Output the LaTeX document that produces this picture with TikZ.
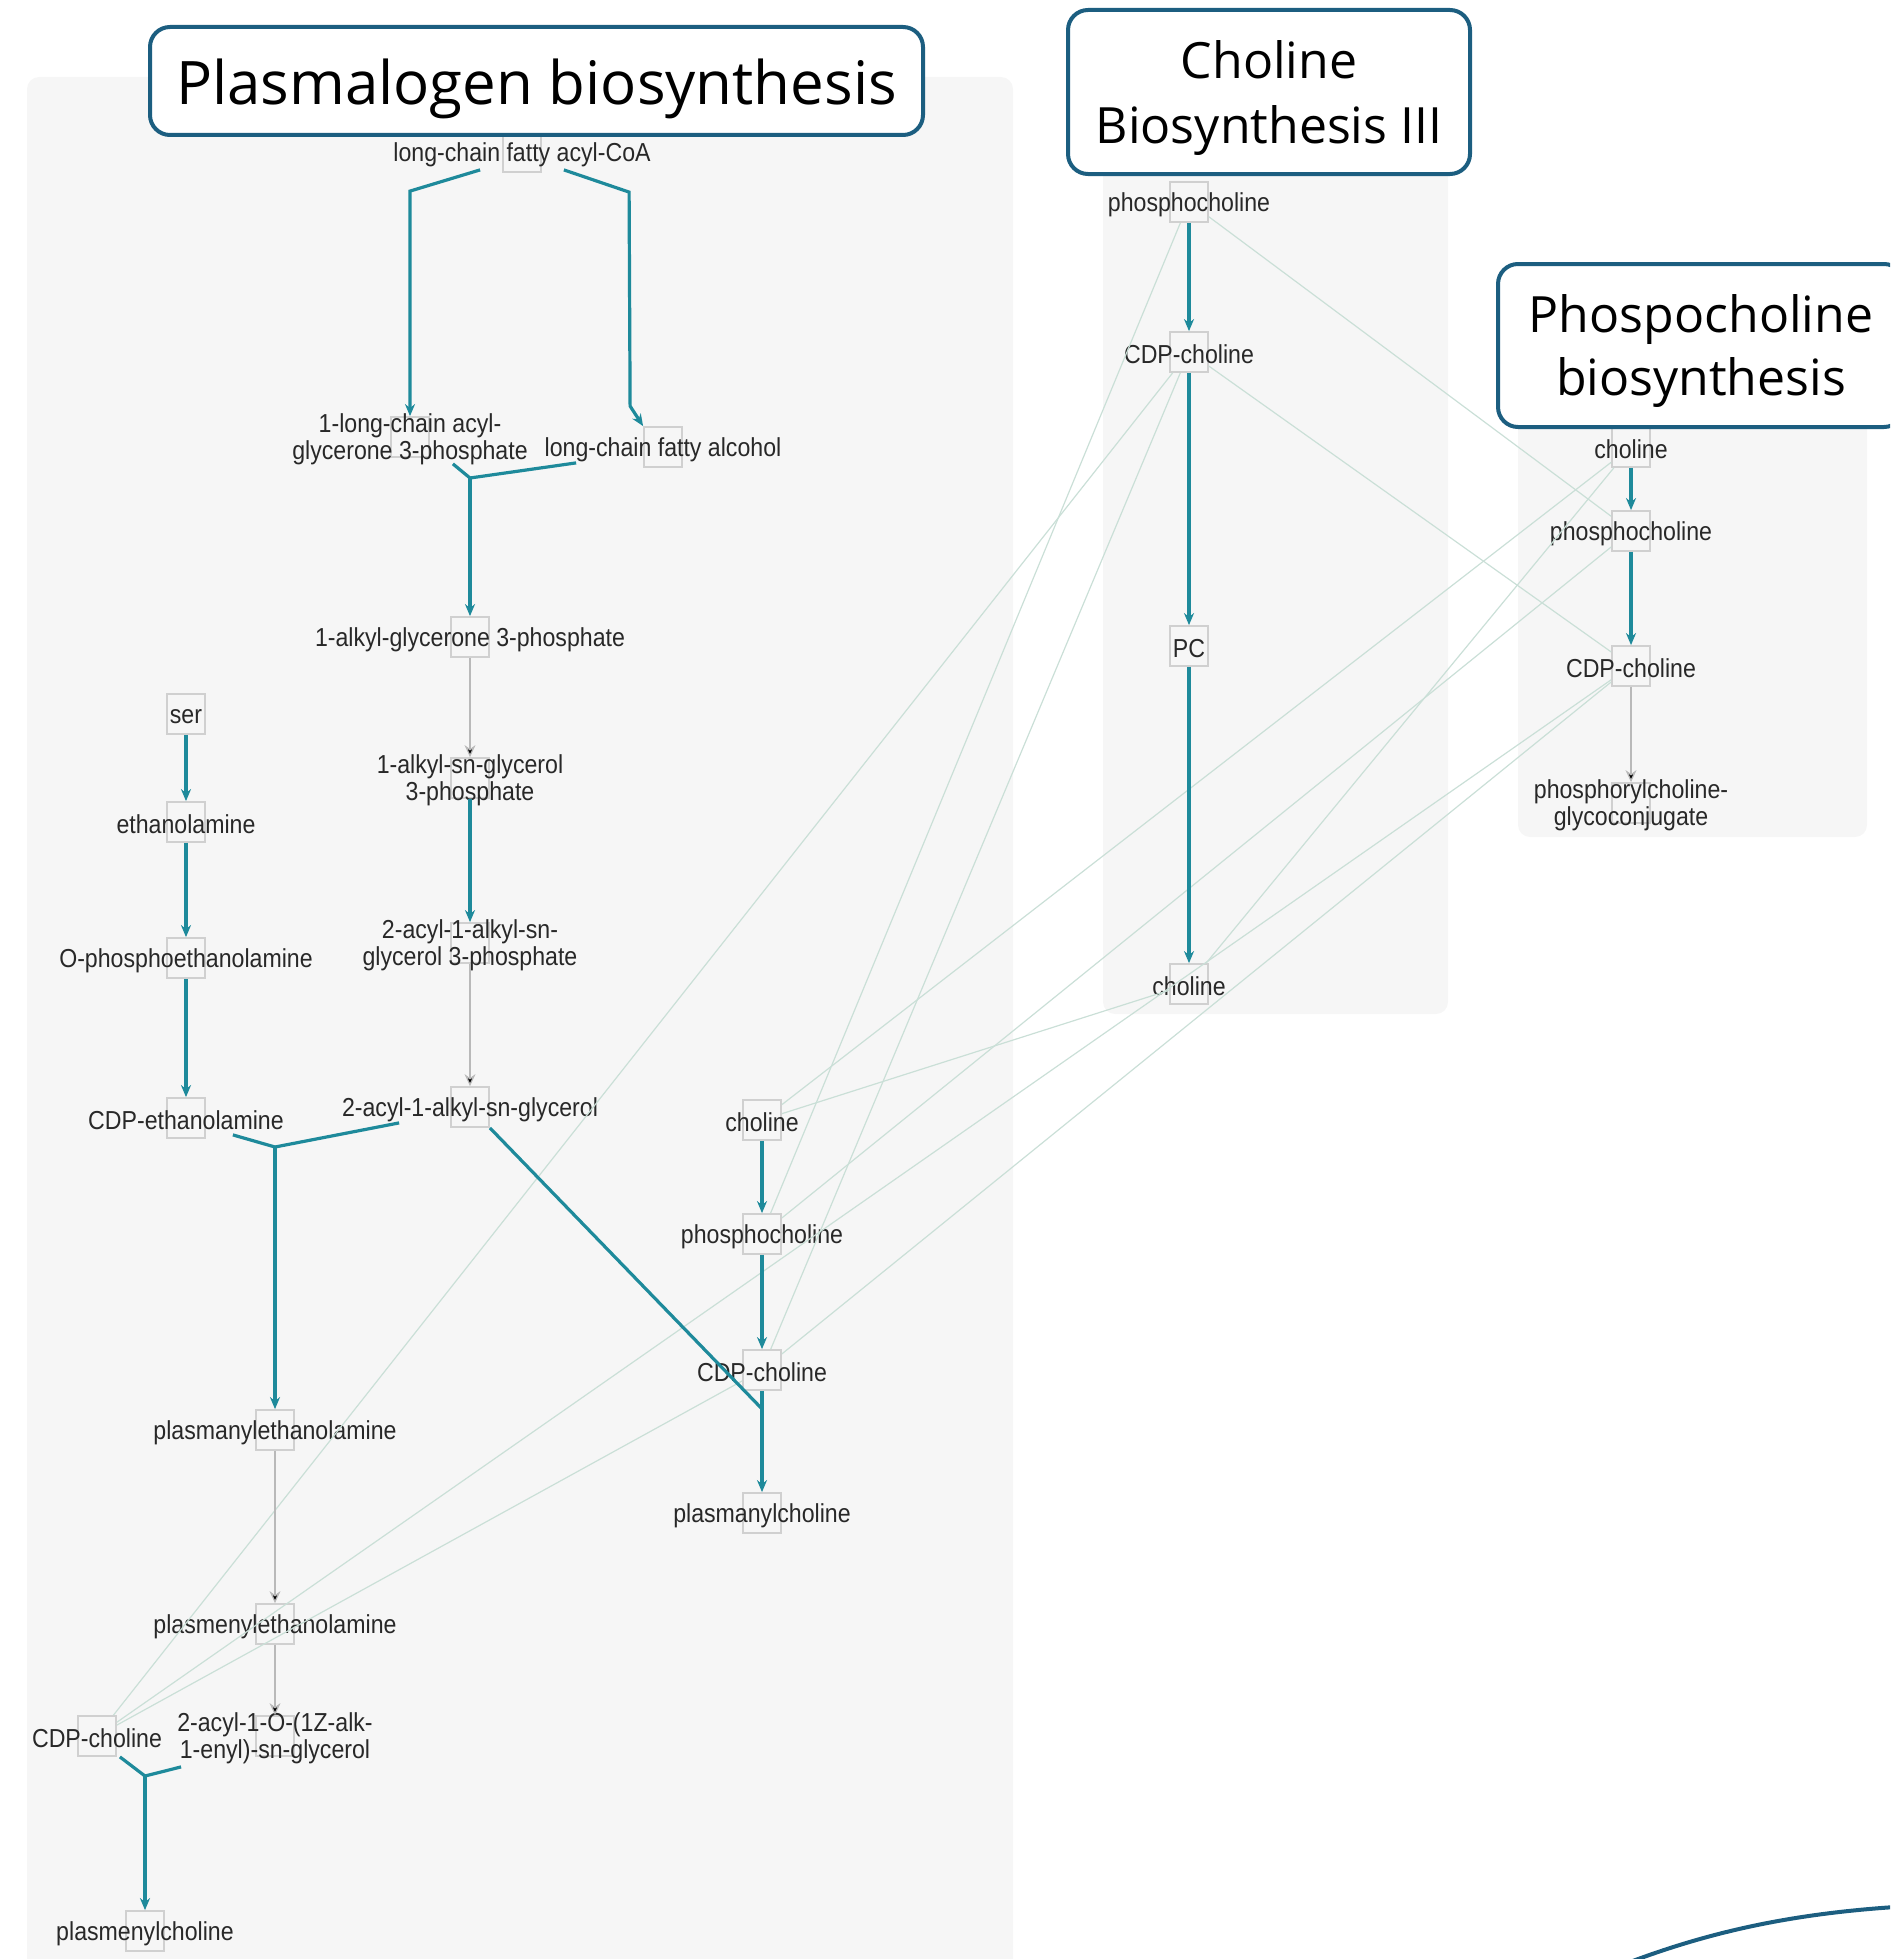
\documentclass[tikz,border=0pt]{standalone}
\usepackage{fontspec}
\setmainfont{Liberation Sans}
\newfontfamily\titlefont{Open Sans}
\newfontfamily\metfont[FakeStretch=0.89]{Liberation Sans}
\usetikzlibrary{arrows.meta,calc}

\definecolor{rxnteal}{RGB}{30,138,155}
\definecolor{linkgreen}{RGB}{202,223,215}
\definecolor{boxgray}{RGB}{208,208,208}
\definecolor{sidegray}{RGB}{185,185,185}
\definecolor{panelgray}{RGB}{246,246,246}
\definecolor{titleblue}{RGB}{28,94,128}
\definecolor{labelgray}{RGB}{40,40,40}

\begin{document}
\begin{tikzpicture}[x=0.5pt,y=-0.5pt,
  met/.style={draw=boxgray,line width=0.9pt,minimum width=19pt,minimum height=20pt,inner sep=0pt},
  lbl/.style={font=\metfont\fontsize{13}{13.5}\selectfont,text=labelgray,align=center,inner sep=0pt,yshift=-1.2pt},
  rxn/.style={draw=rxnteal,line width=1.6pt},
  main/.style={rxn,-{Stealth[length=6pt,width=5pt]}},
  side/.style={draw=sidegray,line width=0.6pt,-{Stealth[length=6pt,width=5.5pt]}},
  link/.style={draw=linkgreen,line width=0.6pt},
  panel/.style={fill=panelgray,rounded corners=6pt},
  title/.style={draw=titleblue,line width=2pt,rounded corners=10pt,fill=white,inner sep=0pt},
  ttl/.style={align=center,text=black,inner sep=0pt,yshift=-3pt}]

  \useasboundingbox (0,0) rectangle (1890,1959);
  \clip (0,0) rectangle (1890,1959);

  % pathway panels
  \fill[panel] (27,77) rectangle (1013,2000);
  \fill[panel] (1103,150) rectangle (1448,1014);
  \fill[panel] (1518,400) rectangle (1867,837);

  % plasmalogen pathway
  \node[met,label={[lbl]center:long-chain fatty acyl-CoA}] (lcfa) at (522,152) {};
  \node[met,label={[lbl]center:1-long-chain acyl-\\glycerone 3-phosphate}] (acylG3P) at (410,437) {};
  \node[met,label={[lbl]center:long-chain fatty alcohol}] (fattyalc) at (663,447) {};
  \node[met,label={[lbl]center:1-alkyl-glycerone 3-phosphate}] (alkylG3P) at (470,637) {};
  \node[met,label={[lbl]center:1-alkyl-sn-glycerol\\3-phosphate}] (alkylGro3P) at (470,778) {};
  \node[met,label={[lbl]center:2-acyl-1-alkyl-sn-\\glycerol 3-phosphate}] (acylalkylGro3P) at (470,943) {};
  \node[met,label={[lbl]center:2-acyl-1-alkyl-sn-glycerol}] (acylalkylGro) at (470,1107) {};
  \node[met,label={[lbl]center:ser}] (ser) at (186,714) {};
  \node[met,label={[lbl]center:ethanolamine}] (etn) at (186,822) {};
  \node[met,label={[lbl]center:O-phosphoethanolamine}] (petn) at (186,958) {};
  \node[met,label={[lbl]center:CDP-ethanolamine}] (cdpetn) at (186,1118) {};
  \node[met,label={[lbl]center:plasmanylethanolamine}] (plsmanE) at (275,1430) {};
  \node[met,label={[lbl]center:plasmenylethanolamine}] (plsmenE) at (275,1624) {};
  \node[met,label={[lbl]center:2-acyl-1-O-(1Z-alk-\\1-enyl)-sn-glycerol}] (alkenylGro) at (275,1736) {};
  \node[met,label={[lbl]center:CDP-choline}] (cdpL) at (97,1736) {};
  \node[met,label={[lbl]center:plasmenylcholine}] (plsmenC) at (145,1931) {};
  \node[met,label={[lbl]center:choline}] (cM) at (762,1120) {};
  \node[met,label={[lbl]center:phosphocholine}] (pM) at (762,1234) {};
  \node[met,label={[lbl]center:CDP-choline}] (cdpM) at (762,1370) {};
  \node[met,label={[lbl]center:plasmanylcholine}] (plsmanC) at (762,1513) {};

  % choline biosynthesis III
  \node[met,label={[lbl]center:phosphocholine}] (p3) at (1189,202) {};
  \node[met,label={[lbl]center:CDP-choline}] (cdp3) at (1189,352) {};
  \node[met,label={[lbl]center:PC}] (pc) at (1189,646) {};
  \node[met,label={[lbl]center:choline}] (c3) at (1189,984) {};

  % phosphocholine biosynthesis
  \node[met,label={[lbl]center:choline}] (cR) at (1631,447) {};
  \node[met,label={[lbl]center:phosphocholine}] (pR) at (1631,531) {};
  \node[met,label={[lbl]center:CDP-choline}] (cdpR) at (1631,666) {};
  \node[met,label={[lbl]center:phosphorylcholine-\\glycoconjugate}] (pcgly) at (1631,803) {};

  % shared metabolites
  \path[link] (cM) edge (c3)  (cM) edge (cR)  (c3) edge (cR)
              (pM) edge (p3)  (pM) edge (pR)  (p3) edge (pR)
              (cdpL) edge (cdpM)  (cdpL) edge (cdp3)  (cdpL) edge (cdpR)
              (cdpM) edge (cdp3)  (cdpM) edge (cdpR)  (cdp3) edge (cdpR);

  % reactions
  \draw[main] ($(lcfa.south west)+(-22,-3)$) -- ($(acylG3P.north)+(0,-225)$) -- (acylG3P.north);
  \draw[main] ($(lcfa.south east)+(22,-3)$) -- ($(fattyalc.north west)+(-14,-234)$)
              -- ($(fattyalc.north west)+(-13,-20)$) -- (fattyalc.north west);

  \coordinate (j1) at (470,478);
  \draw[rxn] ($(acylG3P.south east)+(23,6)$) -- (j1);
  \draw[rxn] ($(fattyalc.south west)+(-67,-5)$) -- (j1);
  \draw[main] (j1) -- (alkylG3P);

  \coordinate (j2) at (275,1147);
  \draw[rxn] ($(cdpetn.south east)+(27,-4)$) -- (j2);
  \draw[rxn] ($(acylalkylGro.south west)+(-51,-5)$) -- (j2);
  \draw[main] (j2) -- (plsmanE);

  \coordinate (j3) at ($(cdpM.south)+(0,18)$);
  \draw[rxn] (acylalkylGro.south east) -- (j3);
  \draw[rxn] (cdpM) -- (j3);
  \draw[main] (j3) -- (plsmanC);

  \coordinate (j4) at (145,1776);
  \draw[rxn] ($(cdpL.south east)+(3,0)$) -- (j4);
  \draw[rxn] ($(alkenylGro.south west)+(-74,10)$) -- (j4);
  \draw[main] (j4) -- (plsmenC);

  \path[main] (alkylGro3P) edge (acylalkylGro3P)
              (ser) edge (etn)
              (etn) edge (petn)
              (petn) edge (cdpetn)
              (cM) edge (pM)
              (pM) edge (cdpM)
              (p3) edge (cdp3)
              (cdp3) edge (pc)
              (pc) edge (c3)
              (cR) edge (pR)
              (pR) edge (cdpR);
  \path[side] (alkylG3P) edge (alkylGro3P)
              (acylalkylGro3P) edge (acylalkylGro)
              (plsmanE) edge (plsmenE)
              (plsmenE) edge (alkenylGro)
              (cdpR) edge (pcgly);

  % titles
  \node[title,minimum width=386.5pt,minimum height=54pt,
        label={[ttl,yshift=-0.8pt,font=\titlefont\fontsize{30}{36}\selectfont]center:Plasmalogen biosynthesis}] (plasTitle) at (536.5,81) {};
  \node[title,minimum width=201pt,minimum height=82pt,
        label={[ttl,font=\titlefont\fontsize{25}{32.5}\selectfont]center:Choline\\Biosynthesis III}] (cholTitle) at (1269,92) {};
  \node[title,minimum width=203pt,minimum height=81.5pt,
        label={[ttl,font=\titlefont\fontsize{25}{31.5}\selectfont]center:Phospocholine\\biosynthesis}] (phosTitle) at (1701,345.5) {};

  \draw[titleblue,line width=2pt] (1630,1962) .. controls (1710,1932) and (1790,1914) .. (1895,1907);
\end{tikzpicture}
\end{document}
